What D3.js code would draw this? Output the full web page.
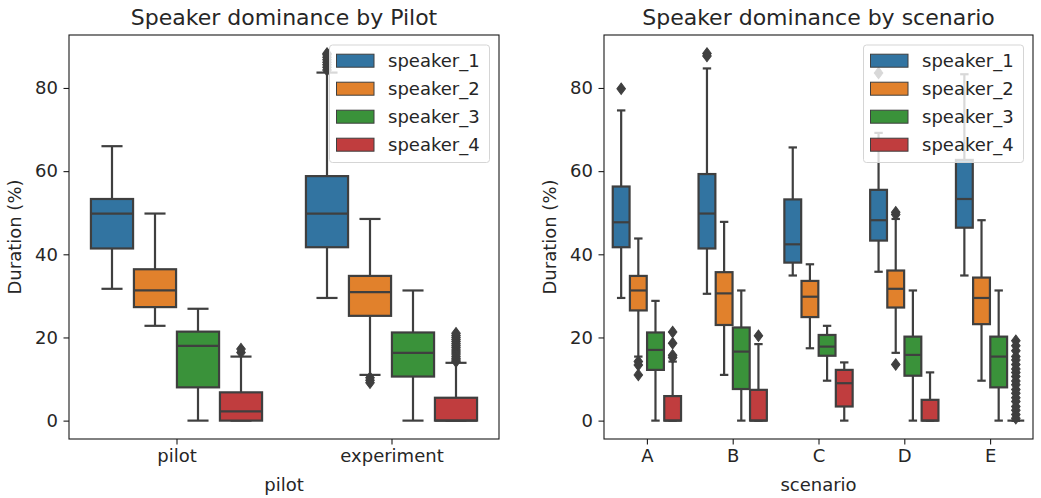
<!DOCTYPE html>
<html>
<head>
<meta charset="utf-8">
<script src="https://cdn.jsdelivr.net/npm/d3@7"></script>
<style>
  body { margin: 0; background: #fff; }
  svg text { font-family: "DejaVu Sans", sans-serif; fill: #262626; }
</style>
</head>
<body>
<svg id="chart" width="1041" height="498"></svg>
<script>
// ---------------- DATA ----------------
const speakers = ["speaker_1", "speaker_2", "speaker_3", "speaker_4"];
const speakerColors = ["#3274a1", "#e1812c", "#3a923a", "#c03d3e"];
const yTicks = [0, 20, 40, 60, 80];

// Left panel: by pilot. Each entry: [whiskerLow, q1, median, q3, whiskerHigh]
const pilotCategories = ["pilot", "experiment"];
const pilotSpeaker1 = [[31.7, 41.4, 49.8, 53.3, 66.0], [29.5, 41.7, 49.8, 58.8, 83.7]];
const pilotSpeaker2 = [[22.8, 27.3, 31.3, 36.4, 49.8], [11.0, 25.2, 30.9, 34.8, 48.5]];
const pilotSpeaker3 = [[0, 8.0, 18.0, 21.4, 26.9], [0, 10.6, 16.3, 21.2, 31.3]];
const pilotSpeaker4 = [[0, 0, 2.2, 6.8, 15.4], [0, 0, 0, 5.5, 13.9]];
const pilotOut1 = [[], [84.3, 85.0, 85.6, 86.2, 86.8, 87.4, 88.0, 88.3]];
const pilotOut2 = [[], [10.3, 9.7, 9.1]];
const pilotOut3 = [[], []];
const pilotOut4 = [[16.4, 17.2], [14.2, 14.6, 15.0, 15.5, 16.0, 16.5, 17.0, 17.5, 18.0, 18.5, 19.0, 19.5, 20.0, 20.5, 21.0]];

// Right panel: by scenario
const scenarioCategories = ["A", "B", "C", "D", "E"];
const scenSpeaker1 = [[29.5, 41.7, 47.7, 56.3, 74.6], [30.5, 41.4, 49.8, 59.3, 84.7], [34.9, 38.0, 42.4, 53.2, 65.7], [35.8, 43.3, 48.2, 55.5, 69.2], [34.9, 46.4, 53.3, 62.7, 83.3]];
const scenSpeaker2 = [[15.4, 26.5, 31.3, 34.8, 43.8], [11.0, 23.0, 30.6, 35.7, 47.8], [17.4, 24.9, 29.8, 33.6, 37.6], [16.3, 27.2, 31.7, 36.1, 48.5], [9.6, 23.2, 29.5, 34.4, 48.2]];
const scenSpeaker3 = [[0, 12.2, 17.0, 21.2, 28.8], [0, 7.6, 16.6, 22.4, 31.3], [9.6, 15.6, 17.8, 20.6, 22.8], [0, 10.8, 15.8, 20.2, 31.3], [0, 8.0, 15.4, 20.2, 31.3]];
const scenSpeaker4 = [[0, 0, 0, 5.9, 14.2], [0, 0, 0, 7.4, 18.4], [0, 3.4, 9.0, 12.2, 14.0], [0, 0, 0, 5.0, 11.6], [0, 0, 0, 0, 0]];
const scenOut1 = [[79.8], [87.7, 88.3], [], [83.6], []];
const scenOut2 = [[14.2, 13.4, 11.0], [], [], [49.6, 50.1, 13.5], []];
const scenOut3 = [[], [], [], [], []];
const scenOut4 = [[15.2, 15.7, 18.6, 21.3], [20.4], [], [], [19.2, 18.0, 16.8, 15.4, 14.6, 13.5, 12.4, 11.6, 10.6, 9.5, 8.6, 7.5, 6.6, 5.5, 4.6, 3.4, 2.5, 1.5, 0.6]];

// ---------------- DRAW ----------------
const svg = d3.select("#chart");
const LINE = "#3f3f3f";
const FS = 18;

function panel(opts) {
  const { x0, x1, y0, y1, cats, stats, outs, title, xlabel } = opts;
  const g = svg.append("g");
  const x = d3.scaleLinear().domain([-0.5, cats.length - 0.5]).range([x0, x1]);
  const y = d3.scaleLinear().domain([-4.42, 92.74]).range([y1, y0]);
  const catW = x(1) - x(0);
  const boxW = catW * 0.2 * 0.98;
  const offsets = [-0.3, -0.1, 0.1, 0.3];
  const diamond = d3.symbol().type(d3.symbolDiamond).size(38);

  // boxes
  speakers.forEach((sp, h) => {
    cats.forEach((c, i) => {
      const [lo, q1, med, q3, hi] = stats[h][i];
      const cx = x(i + offsets[h]);
      const bg = g.append("g");
      bg.append("line").attr("x1", cx).attr("x2", cx).attr("y1", y(q1)).attr("y2", y(lo))
        .attr("stroke", LINE).attr("stroke-width", 2.2);
      bg.append("line").attr("x1", cx).attr("x2", cx).attr("y1", y(q3)).attr("y2", y(hi))
        .attr("stroke", LINE).attr("stroke-width", 2.2);
      [lo, hi].forEach(v => {
        bg.append("line").attr("x1", cx - boxW / 4).attr("x2", cx + boxW / 4)
          .attr("y1", y(v)).attr("y2", y(v)).attr("stroke", LINE).attr("stroke-width", 2.2);
      });
      bg.append("rect").attr("x", cx - boxW / 2).attr("width", boxW)
        .attr("y", y(q3)).attr("height", Math.max(0, y(q1) - y(q3)))
        .attr("fill", speakerColors[h]).attr("stroke", LINE).attr("stroke-width", 2.2);
      bg.append("line").attr("x1", cx - boxW / 2).attr("x2", cx + boxW / 2)
        .attr("y1", y(med)).attr("y2", y(med)).attr("stroke", LINE).attr("stroke-width", 2.2);
      outs[h][i].forEach(v => {
        bg.append("path").attr("d", diamond)
          .attr("transform", `translate(${cx},${y(v)}) scale(1.3,1.0)`)
          .attr("fill", LINE).attr("stroke", LINE).attr("stroke-width", 0.8);
      });
    });
  });

  // frame
  g.append("rect").attr("x", x0).attr("y", y0).attr("width", x1 - x0).attr("height", y1 - y0)
    .attr("fill", "none").attr("stroke", "#1a1a1a").attr("stroke-width", 1.1);

  // y axis
  const yAxis = d3.axisLeft(y).tickValues(yTicks).tickSize(5.5).tickPadding(5.5).tickFormat(d3.format("d"));
  const ya = g.append("g").attr("transform", `translate(${x0},0)`).call(yAxis);
  ya.select(".domain").remove();
  ya.selectAll(".tick line").attr("stroke", "#1a1a1a").attr("stroke-width", 1.1);
  ya.selectAll(".tick text").attr("font-size", FS).attr("font-family", "DejaVu Sans").attr("fill", "#262626");

  // x axis
  const xAxis = d3.axisBottom(x).tickValues(d3.range(cats.length)).tickSize(5.5).tickPadding(5).tickFormat(i => cats[i]);
  const xa = g.append("g").attr("transform", `translate(0,${y1})`).call(xAxis);
  xa.select(".domain").remove();
  xa.selectAll(".tick line").attr("stroke", "#1a1a1a").attr("stroke-width", 1.1);
  xa.selectAll(".tick text").attr("font-size", FS).attr("font-family", "DejaVu Sans").attr("fill", "#262626");

  // labels
  g.append("text").attr("x", (x0 + x1) / 2).attr("y", 24.5).attr("text-anchor", "middle")
    .attr("font-size", 22).text(title);
  g.append("text").attr("x", (x0 + x1) / 2).attr("y", 491).attr("text-anchor", "middle")
    .attr("font-size", FS).text(xlabel);
  g.append("text").attr("transform", `translate(${x0 - 48},${(y0 + y1) / 2}) rotate(-90)`)
    .attr("text-anchor", "middle").attr("font-size", FS).text("Duration (%)");

  // legend
  const lx = x1 - 169.5, ly = 45;
  const lg = g.append("g");
  lg.append("rect").attr("x", lx).attr("y", ly).attr("width", 160).attr("height", 117.5)
    .attr("rx", 3).attr("fill", "#fff").attr("fill-opacity", 0.8)
    .attr("stroke", "#d5d5d5").attr("stroke-width", 1);
  speakers.forEach((sp, h) => {
    const cy = 60.7 + h * 28;
    lg.append("rect").attr("x", lx + 7).attr("y", cy - 6.5).attr("width", 37.5).attr("height", 13)
      .attr("fill", speakerColors[h]).attr("stroke", LINE).attr("stroke-width", 1);
    lg.append("text").attr("x", lx + 58.5).attr("y", cy).attr("dy", "0.36em")
      .attr("font-size", FS).text(sp);
  });
}

panel({
  x0: 69, x1: 499, y0: 35, y1: 439,
  cats: pilotCategories,
  stats: [pilotSpeaker1, pilotSpeaker2, pilotSpeaker3, pilotSpeaker4],
  outs: [pilotOut1, pilotOut2, pilotOut3, pilotOut4],
  title: "Speaker dominance by Pilot", xlabel: "pilot"
});
panel({
  x0: 604, x1: 1033, y0: 35, y1: 439,
  cats: scenarioCategories,
  stats: [scenSpeaker1, scenSpeaker2, scenSpeaker3, scenSpeaker4],
  outs: [scenOut1, scenOut2, scenOut3, scenOut4],
  title: "Speaker dominance by scenario", xlabel: "scenario"
});
</script>
</body>
</html>
